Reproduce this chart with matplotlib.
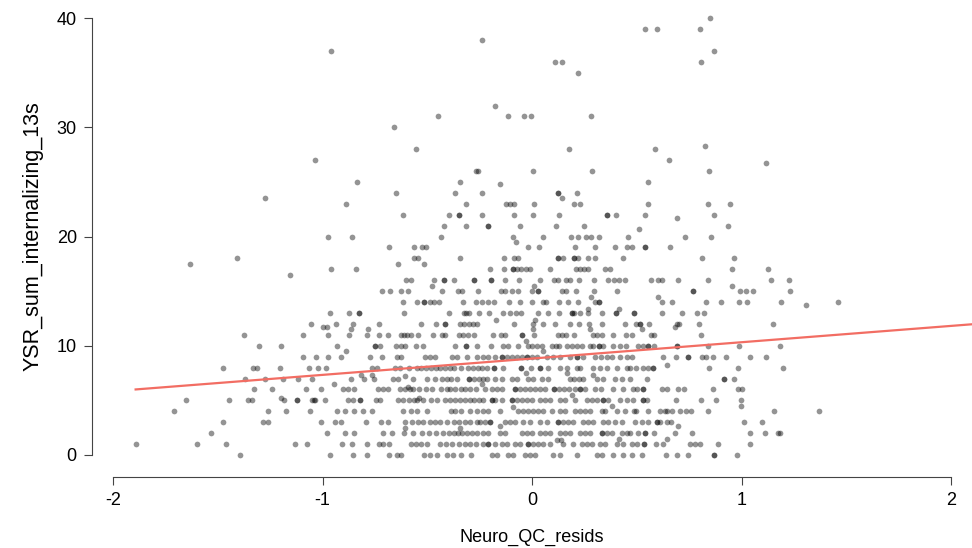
import numpy as np
import matplotlib
matplotlib.use("Agg")
import matplotlib.pyplot as plt

# ==============================================================
# Data: Neuro_QC_resids (x) per YSR score row
# ==============================================================

row_40 = [0.85]
row_39 = [0.541, 0.597, 0.80]
row_38 = [-0.237]
row_37 = [-0.958, 0.867]
row_36 = [0.108, 0.145, 0.807]
row_35 = [0.22]
row_32 = [-0.175]
row_31 = [-0.45, -0.113, -0.04, -0.005, 0.283]
row_30 = [-0.659]
row_28 = [-0.555, 0.178, 0.587]
row_27 = [-1.034, 0.652]
row_26 = [-0.267, -0.258, 0.006, 0.285, 0.843]
row_25 = [-0.837, -0.344, 0.554]
row_24 = [-0.651, -0.366, -0.24, 0.123, 0.123, 0.213]
row_23 = [-0.888, -0.313, -0.126, -0.105, -0.085, 0.01, 0.2, 0.228, 0.554, 0.838, 0.947]
row_22 = [-0.617, -0.395, -0.35, -0.35, -0.24, -0.087, 0.005, 0.129, 0.358, 0.358,
          0.403, 0.541, 0.87]
row_21 = [-0.418, -0.317, -0.209, -0.209, -0.056, 0.113, 0.25, 0.936]
row_20 = [-0.975, -0.859, -0.433, -0.089, 0.054, 0.186, 0.221, 0.256, 0.28, 0.318,
          0.46, 0.729, 0.853]
row_19 = [-0.684, -0.563, -0.525, -0.505, -0.018, 0.033, 0.207, 0.301, 0.398, 0.453,
          0.476, 0.538, 0.538, 0.66]
row_18 = [-1.41, -0.563, -0.543, -0.344, -0.135, -0.086, -0.065, 0.123, 0.123, 0.149,
          0.199, 0.199, 0.218, 0.269, 0.301, 0.433, 0.813, 0.964]
row_17 = [-0.961, -0.842, -0.199, -0.134, -0.091, -0.091, -0.072, -0.051, -0.03, -0.008,
          0.086, 0.21, 0.229, 0.248, 0.269, 0.35, 0.374, 0.956, 1.128]
row_16 = [-0.6, -0.579, -0.468, -0.421, -0.421, -0.374, -0.278, -0.278, -0.196, -0.196,
          -0.129, -0.064, 0.038, 0.104, 0.126, 0.164, 0.181, 0.224, 0.297, 0.361,
          0.39, 0.417, 0.444, 0.569, 0.6, 0.621, 0.697, 0.84, 1.142, 1.227]
row_15 = [-0.715, -0.676, -0.624, -0.592, -0.431, -0.355, -0.336, -0.258, -0.147, -0.127,
          -0.094, -0.065, -0.001, 0.027, 0.027, 0.145, 0.161, 0.211, 0.297, 0.404,
          0.768, 0.768, 0.993, 1.023, 1.053, 1.232]
row_14 = [-0.614, -0.547, -0.514, -0.514, -0.487, -0.466, -0.445, -0.331, -0.266, -0.24,
          -0.209, -0.181, -0.108, -0.056, 0.001, 0.051, 0.067, 0.129, 0.172, 0.221,
          0.301, 0.318, 0.318, 0.622, 0.668, 0.831, 0.902, 0.988, 1.028, 1.19, 1.459]
row_13 = [-0.966, -0.872, -0.827, -0.827, -0.611, -0.398, -0.326, -0.314, -0.302, -0.252,
          -0.204, -0.14, -0.105, -0.078, -0.054, 0.03, 0.076, 0.129, 0.191, 0.191,
          0.202, 0.231, 0.266, 0.333, 0.402, 0.402, 0.488, 0.488, 0.619, 0.716,
          0.789, 0.822]
row_12 = [-1.053, -0.936, -0.856, -0.732, -0.531, -0.458, -0.415, -0.415, -0.344, -0.323,
          -0.302, -0.282, -0.264, -0.086, 0.005, 0.054, 0.11, 0.18, 0.224, 0.272,
          0.333, 0.445, 0.495, 0.514, 0.514, 0.558, 0.692, 0.703, 0.797, 1.152]
row_11 = [-1.373, -1.095, -0.975, -0.875, -0.789, -0.729, -0.689, -0.627, -0.611, -0.595,
          -0.576, -0.544, -0.474, -0.431, -0.415, -0.347, -0.328, -0.307, -0.275, -0.188,
          -0.149, -0.13, -0.049, -0.049, 0.011, 0.123, 0.143, 0.162, 0.2, 0.291,
          0.312, 0.333, 0.385, 0.447, 0.479, 0.569, 0.582, 0.807]
row_10 = [-1.303, -1.198, -0.929, -0.751, -0.751, -0.726, -0.648, -0.625, -0.608, -0.555,
          -0.519, -0.366, -0.315, -0.315, -0.264, -0.196, -0.137, -0.113, -0.065, -0.021,
          -0.001, 0.022, 0.046, 0.094, 0.115, 0.131, 0.169, 0.189, 0.213, 0.237,
          0.277, 0.293, 0.318, 0.318, 0.34, 0.388, 0.42, 0.447, 0.507, 0.531,
          0.555, 0.555, 0.582, 0.691, 0.691, 0.842, 0.988, 1.184]
row_9 = [-1.095, -1.03, -0.975, -0.912, -0.773, -0.717, -0.646, -0.624, -0.509, -0.485,
         -0.464, -0.382, -0.359, -0.31, -0.263, -0.232, -0.209, -0.177, -0.145, -0.145,
         -0.121, -0.097, -0.073, -0.049, -0.025, -0.025, -0.001, 0.022, 0.07, 0.102,
         0.134, 0.181, 0.213, 0.213, 0.245, 0.301, 0.329, 0.357, 0.38, 0.42,
         0.452, 0.476, 0.624, 0.686, 0.743, 0.743, 0.81, 0.831, 0.866, 0.925,
         1.041, 1.117]
row_8 = [-1.475, -1.333, -1.314, -1.204, -1.066, -1.021, -0.985, -0.762, -0.738, -0.652,
         -0.63, -0.587, -0.547, -0.528, -0.506, -0.482, -0.46, -0.438, -0.415, -0.393,
         -0.371, -0.34, -0.307, -0.282, -0.259, -0.24, -0.216, -0.181, -0.181, -0.137,
         -0.054, -0.054, -0.006, 0.038, 0.038, 0.078, 0.134, 0.166, 0.213, 0.229,
         0.293, 0.325, 0.357, 0.404, 0.452, 0.468, 0.496, 0.531, 0.555, 0.576,
         0.576, 0.845, 0.982, 1.198]
row_7 = [-1.372, -1.273, -1.189, -1.115, -1.049, -0.864, -0.8, -0.756, -0.662, -0.64,
         -0.57, -0.503, -0.464, -0.43, -0.406, -0.385, -0.358, -0.302, -0.302, -0.278,
         -0.254, -0.235, -0.216, -0.177, -0.145, -0.097, -0.073, -0.018, 0.006, 0.046,
         0.078, 0.181, 0.202, 0.224, 0.245, 0.312, 0.34, 0.396, 0.428, 0.468,
         0.551, 0.918, 0.918, 0.964]
row_6 = [-1.325, -1.241, -1.079, -1.007, -0.901, -0.878, -0.851, -0.737, -0.713, -0.686,
         -0.632, -0.605, -0.581, -0.568, -0.539, -0.507, -0.477, -0.434, -0.407, -0.39,
         -0.368, -0.34, -0.32, -0.297, -0.267, -0.224, -0.192, -0.166, -0.145, -0.081,
         -0.081, -0.057, -0.033, -0.01, 0.014, 0.038, 0.062, 0.105, 0.105, 0.131,
         0.154, 0.178, 0.205, 0.229, 0.229, 0.253, 0.301, 0.328, 0.388, 0.436,
         0.484, 0.5, 0.531, 0.531, 0.619, 0.643, 0.698, 0.726, 0.866, 0.985, 1.001]
row_5 = [-1.653, -1.448, -1.357, -1.335, -1.182, -1.123, -1.123, -1.05, -1.04, -1.035,
         -0.987, -0.877, -0.853, -0.821, -0.821, -0.745, -0.726, -0.638, -0.617, -0.587,
         -0.565, -0.547, -0.522, -0.481, -0.453, -0.414, -0.39, -0.368, -0.345, -0.318,
         -0.296, -0.277, -0.254, -0.232, -0.192, -0.192, -0.177, -0.145, -0.097, -0.097,
         -0.073, -0.049, -0.025, -0.001, 0.038, 0.062, 0.086, 0.134, 0.158, 0.205,
         0.261, 0.285, 0.309, 0.34, 0.34, 0.364, 0.42, 0.452, 0.48, 0.528,
         0.528, 0.551, 0.686, 0.805, 0.877, 0.998]
row_4 = [-1.707, -1.26, -1.176, -1.061, -0.929, -0.893, -0.85, -0.808, -0.764, -0.617,
         -0.576, -0.547, -0.503, -0.388, -0.368, -0.339, -0.296, -0.264, -0.232, -0.209,
         -0.153, -0.065, -0.042, -0.018, 0.006, 0.03, 0.054, 0.094, 0.134, 0.158,
         0.205, 0.229, 0.253, 0.277, 0.333, 0.348, 0.404, 0.444, 0.487, 0.496,
         0.555, 0.611, 0.633, 0.646, 0.667, 0.706, 0.734, 0.759, 0.84, 1.155, 1.37]
row_3 = [-1.475, -1.286, -1.259, -1.006, -0.94, -0.912, -0.794, -0.719, -0.686, -0.605,
         -0.571, -0.543, -0.519, -0.485, -0.462, -0.438, -0.407, -0.374, -0.347, -0.318,
         -0.294, -0.264, -0.248, -0.224, -0.2, -0.2, -0.129, -0.105, -0.081, -0.042,
         -0.01, 0.038, 0.07, 0.126, 0.126, 0.149, 0.173, 0.197, 0.245, 0.269,
         0.293, 0.34, 0.364, 0.396, 0.428, 0.492, 0.524, 0.555, 0.595, 0.595,
         0.611, 0.646, 0.665, 1.013, 1.096]
row_2 = [-1.531, -0.979, -0.894, -0.848, -0.713, -0.667, -0.611, -0.567, -0.524, -0.492,
         -0.458, -0.426, -0.398, -0.374, -0.353, -0.334, -0.312, -0.286, -0.264, -0.232,
         -0.209, -0.153, -0.129, -0.049, -0.025, -0.001, 0.038, 0.062, 0.086, 0.134,
         0.158, 0.181, 0.229, 0.253, 0.277, 0.333, 0.333, 0.357, 0.38, 0.428,
         0.452, 0.468, 0.507, 0.541, 0.541, 0.582, 0.684, 0.762, 1.041, 1.112,
         1.176, 1.184]
row_1 = [-1.892, -1.599, -1.461, -1.131, -1.075, -0.908, -0.859, -0.788, -0.732, -0.71,
         -0.684, -0.576, -0.552, -0.531, -0.503, -0.439, -0.409, -0.38, -0.35, -0.321,
         -0.294, -0.267, -0.232, -0.209, -0.209, -0.177, -0.145, -0.121, -0.081, -0.057,
         -0.018, -0.018, 0.006, 0.03, 0.054, 0.086, 0.149, 0.197, 0.237, 0.261,
         0.285, 0.325, 0.348, 0.404, 0.436, 0.476, 0.503, 0.535, 0.535, 0.59,
         0.624, 0.754, 0.778, 0.802, 0.888, 1.041]
row_0 = [-1.395, -0.966, -0.853, -0.789, -0.684, -0.644, -0.627, -0.514, -0.487, -0.452,
         -0.407, -0.376, -0.337, -0.293, -0.192, -0.169, -0.113, -0.089, -0.033, -0.01,
         0.014, 0.102, 0.134, 0.213, 0.309, 0.333, 0.388, 0.436, 0.476, 0.524,
         0.64, 0.691, 0.746, 0.869, 0.869, 0.98]

# points that sit between the integer rows (x, y)
offgrid_x = [0.827, 1.118, -0.153, -1.273, 0.145, 0.692, 0.509, -0.075, -1.632, -0.641,
             -0.517, -1.155, -0.476, 0.008, 0.956, 0.282, 0.601, 1.308, 0.269, 0.417,
             -0.17, 0.014, -0.999, -0.98, 0.684, -0.865, -0.781, 0.006, 0.277, 0.524,
             -0.029, -0.889, 0.054, 0.646, -0.03, 0.169, -0.818, -0.765, 0.293, -0.605,
             -0.944, -0.237, -0.593, 0.192, -1.198, -0.539, 0.382, 0.998, -0.089,
             -0.153, 0.698, -0.606, -0.345, 0.417, 0.646, 0.121, 0.137]
offgrid_y = [28.3, 26.7, 24.8, 23.5, 23.5, 21.7, 20.7, 19.5, 17.5, 17.5,
             17.5, 16.5, 15.5, 15.5, 15.5, 14.5, 14.5, 13.7, 13.4, 13.4,
             12.4, 12.4, 11.7, 11.7, 11.7, 11.5, 11.5, 11.5, 11.5, 11.5,
             10.4, 9.5, 9.5, 8.2, 7.5, 7.5, 7.3, 7.3, 7.3, 7.2,
             6.5, 6.5, 6.2, 5.5, 5.2, 5.2, 4.5, 4.5, 4.4,
             2.7, 2.7, 2.5, 2.5, 1.5, 1.5, 1.4, 1.4]

# regression line
fit_intercept = 8.83
fit_slope = 1.495

rows = {40: row_40, 39: row_39, 38: row_38, 37: row_37, 36: row_36, 35: row_35,
        32: row_32, 31: row_31, 30: row_30, 28: row_28, 27: row_27, 26: row_26,
        25: row_25, 24: row_24, 23: row_23, 22: row_22, 21: row_21, 20: row_20,
        19: row_19, 18: row_18, 17: row_17, 16: row_16, 15: row_15, 14: row_14,
        13: row_13, 12: row_12, 11: row_11, 10: row_10, 9: row_9, 8: row_8,
        7: row_7, 6: row_6, 5: row_5, 4: row_4, 3: row_3, 2: row_2, 1: row_1, 0: row_0}

x = np.concatenate([np.array(v) for v in rows.values()] + [np.array(offgrid_x)])
y = np.concatenate([np.full(len(v), k, dtype=float) for k, v in rows.items()]
                   + [np.array(offgrid_y)])

# ==============================================================
# Plot
# ==============================================================

plt.rcParams["font.family"] = ["Liberation Sans", "DejaVu Sans"]
plt.rcParams["axes.unicode_minus"] = False

fig = plt.figure(figsize=(9.72, 5.48), dpi=100)
ax = fig.add_axes([0.0947, 0.1498, 0.9053, 0.837])

ax.scatter(x, y, s=17, color="black", alpha=0.42, linewidths=0, clip_on=False, zorder=2)

line_x = np.array([x.min(), 2.1])
ax.plot(line_x, fit_intercept + fit_slope * line_x, color="#f26d63", lw=1.6, zorder=3)

ax.set_xlim(-2.1, 2.1)
ax.set_ylim(-1, 41)
ax.set_xticks([-2, -1, 0, 1, 2])
ax.set_yticks([0, 10, 20, 30, 40])

for side in ["top", "right"]:
    ax.spines[side].set_visible(False)
for side in ["left", "bottom"]:
    ax.spines[side].set_color("#444444")
    ax.spines[side].set_linewidth(0.8)
ax.spines["bottom"].set_bounds(-2, 2)
ax.spines["left"].set_bounds(0, 40)
ax.spines["bottom"].set_position(("outward", 8))
ax.tick_params(labelsize=13, length=6, width=0.8, color="#444444", pad=5)

ax.set_xlabel("Neuro_QC_resids", fontsize=13, labelpad=14)
ax.set_ylabel("YSR_sum_internalizing_13s", fontsize=15.5)
ax.yaxis.set_label_coords(-0.055, 0.5)

fig.savefig("out.png", dpi=100)
